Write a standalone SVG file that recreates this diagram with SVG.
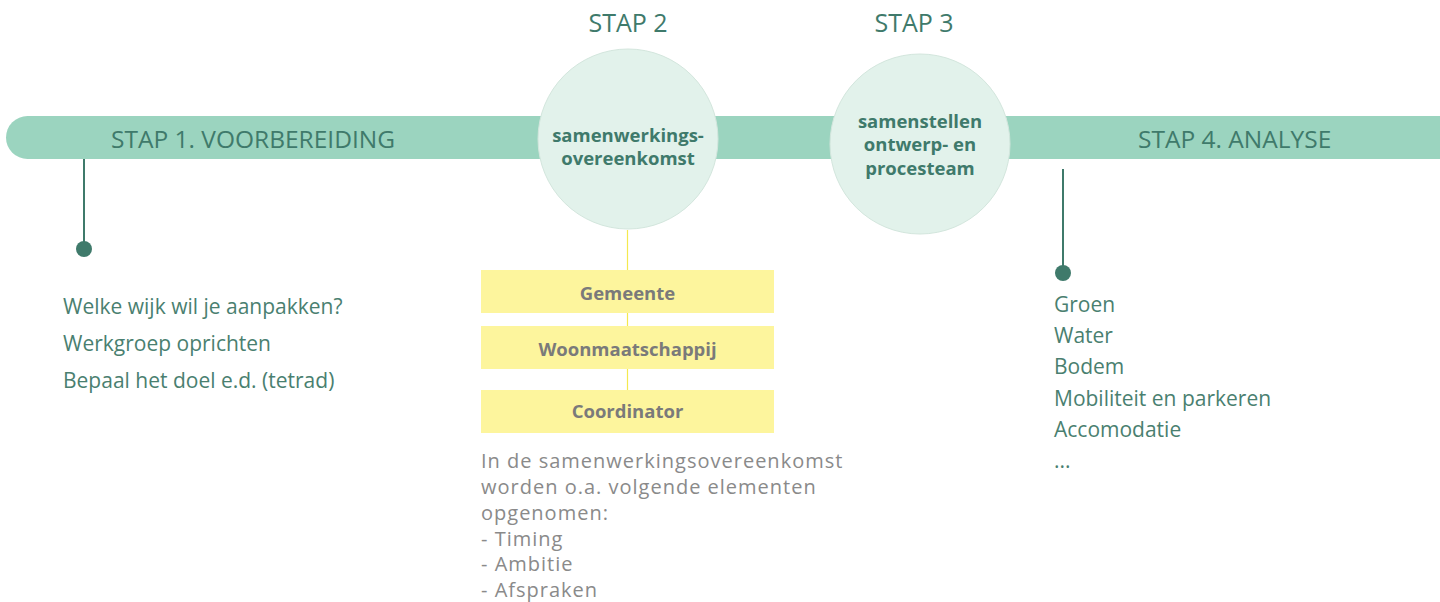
<svg xmlns="http://www.w3.org/2000/svg" width="1440" height="602" viewBox="0 0 1440 602">
<style>
.band{fill:#9bd4bf}
.bandtxt{font-family:"Open Sans",sans-serif;font-size:24.5px;fill:#3f7a6b}
.step{font-family:"Open Sans",sans-serif;font-size:25px;fill:#3f7a6b;text-anchor:middle}
.circ{fill:#e2f2eb;stroke:#d3e6dd;stroke-width:1}
.ctxt{font-family:"Open Sans",sans-serif;font-weight:bold;font-size:18.5px;fill:#3f7a6b;text-anchor:middle}
.stem{stroke:#3f7a6b;stroke-width:2}
.dot{fill:#3f7a6b}
.list{font-family:"Open Sans",sans-serif;font-size:21px;fill:#4a7f70}
.box{fill:#fdf59d}
.btxt{font-family:"Open Sans",sans-serif;font-weight:bold;font-size:18.5px;fill:#7a7a7a;text-anchor:middle}
.para{font-family:"Open Sans",sans-serif;font-size:20px;letter-spacing:1px;fill:#8a8a8a}
</style>
<g id="timeline">
<rect class="band" x="6" y="116" width="1460" height="43" rx="21.5"/>
<text class="bandtxt" x="111" y="148">STAP 1. VOORBEREIDING</text>
<text class="bandtxt" x="1138" y="148">STAP 4. ANALYSE</text>
</g>
<g id="connectors">
<line class="stem" x1="84" y1="159" x2="84" y2="249"/>
<line class="stem" x1="1063" y1="169" x2="1063" y2="273"/>
<line x1="627.5" y1="230" x2="627.5" y2="390" stroke="#f4e94f" stroke-width="1.2"/>
</g>
<g id="stap1-dot"><circle class="dot" cx="84" cy="249" r="8"/></g>
<g id="stap4-dot"><circle class="dot" cx="1063" cy="273" r="8"/></g>
<g id="stap2">
<text class="step" x="628" y="32">STAP 2</text>
<circle class="circ" cx="628" cy="139" r="90"/>
<text class="ctxt" x="628" y="142">samenwerkings-</text>
<text class="ctxt" x="628" y="165">overeenkomst</text>
</g>
<g id="stap3">
<text class="step" x="914" y="32">STAP 3</text>
<circle class="circ" cx="920" cy="144" r="90"/>
<text class="ctxt" x="920" y="128">samenstellen</text>
<text class="ctxt" x="920" y="151">ontwerp- en</text>
<text class="ctxt" x="920" y="175">procesteam</text>
</g>
<g id="stap1-list">
<text class="list" x="63" y="314">Welke wijk wil je aanpakken?</text>
<text class="list" x="63" y="351">Werkgroep oprichten</text>
<text class="list" x="63" y="388">Bepaal het doel e.d. (tetrad)</text>
</g>
<g id="gemeente"><rect class="box" x="481" y="270" width="293" height="43"/><text class="btxt" x="627.5" y="300">Gemeente</text></g>
<g id="woonmaatschappij"><rect class="box" x="481" y="326" width="293" height="43"/><text class="btxt" x="627.5" y="356">Woonmaatschappij</text></g>
<g id="coordinator"><rect class="box" x="481" y="390" width="293" height="43"/><text class="btxt" x="627.5" y="418">Coordinator</text></g>
<g id="stap2-text">
<text class="para" x="481" y="468">In de samenwerkingsovereenkomst</text>
<text class="para" x="481" y="494">worden o.a. volgende elementen</text>
<text class="para" x="481" y="519.5">opgenomen:</text>
<text class="para" x="481" y="545.5">- Timing</text>
<text class="para" x="481" y="571">- Ambitie</text>
<text class="para" x="481" y="597">- Afspraken</text>
</g>
<g id="stap4-list">
<text class="list" x="1054" y="312">Groen</text>
<text class="list" x="1054" y="343">Water</text>
<text class="list" x="1054" y="374">Bodem</text>
<text class="list" x="1054" y="406">Mobiliteit en parkeren</text>
<text class="list" x="1054" y="437">Accomodatie</text>
<text class="list" x="1054" y="468">...</text>
</g>
</svg>
